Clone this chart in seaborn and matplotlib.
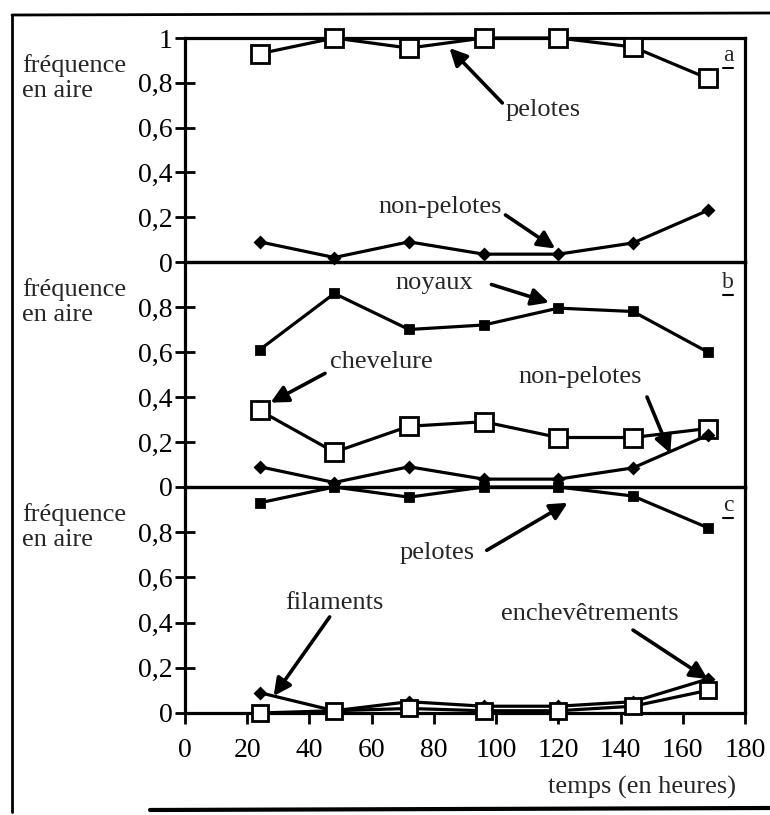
import numpy as np
import matplotlib
matplotlib.use("Agg")
import matplotlib.pyplot as plt
import seaborn as sns
from matplotlib.lines import Line2D

# temps (heures)
hours = [24, 48, 72, 96, 120, 144, 168]

# panel a / c : pelotes, non-pelotes
pelotes = [0.93, 1.0, 0.955, 1.0, 1.0, 0.96, 0.82]
non_pelotes = [0.09, 0.02, 0.09, 0.035, 0.035, 0.085, 0.23]

# panel b : noyaux, chevelure
noyaux = [0.61, 0.86, 0.70, 0.72, 0.795, 0.78, 0.60]
chevelure = [0.34, 0.155, 0.27, 0.29, 0.22, 0.22, 0.26]

# panel c : filaments, enchevetrements
filaments = [0.09, 0.01, 0.05, 0.03, 0.03, 0.05, 0.15]
enchevetrements = [0.0, 0.01, 0.02, 0.01, 0.01, 0.03, 0.10]

ytick_vals = [0, 0.2, 0.4, 0.6, 0.8]
ytick_labels = ["0", "0,2", "0,4", "0,6", "0,8"]
xtick_vals = [0, 20, 40, 60, 80, 100, 120, 140, 160, 180]

sns.set_style("ticks")
plt.rcParams["font.family"] = ["Liberation Serif", "DejaVu Serif"]
FS = 19

fig = plt.figure(figsize=(7.7, 8.15), dpi=100)
W, H = 770, 815
left, right = 185, 745
bounds = [(38, 262), (262, 487), (487, 713)]
axes = []
for top, bot in bounds:
    ax = fig.add_axes([left / W, (H - bot) / H, (right - left) / W, (bot - top) / H])
    axes.append(ax)
ax_a, ax_b, ax_c = axes


def line(ax, y, marker, ms, mfc):
    sns.lineplot(x=hours, y=y, ax=ax, color="black", lw=2.3, marker=marker,
                 markersize=ms, markerfacecolor=mfc, markeredgecolor="black",
                 markeredgewidth=2.0, zorder=3, clip_on=False)


line(ax_a, pelotes, "s", 13, "white")
line(ax_a, non_pelotes, "D", 5, "black")

line(ax_b, noyaux, "s", 6, "black")
line(ax_b, chevelure, "s", 13, "white")
line(ax_b, non_pelotes, "D", 5, "black")

line(ax_c, pelotes, "s", 6, "black")
line(ax_c, filaments, "D", 5, "black")
line(ax_c, enchevetrements, "s", 11, "white")

for i, ax in enumerate(axes):
    ax.set_xlim(0, 180)
    ax.set_ylim(0, 1)
    for s in ax.spines.values():
        s.set_linewidth(2.3)
        s.set_color("black")
        s.set_visible(True)
    if i == 0:
        ax.set_yticks(ytick_vals + [1])
        ax.set_yticklabels(ytick_labels + ["1"])
    else:
        ax.set_yticks(ytick_vals)
        ax.set_yticklabels(ytick_labels)
    ax.tick_params(axis="y", direction="inout", length=14, width=2.0,
                   labelsize=FS + 1, pad=2, colors="black")
    ax.set_xticks(xtick_vals)
    if i < 2:
        ax.tick_params(axis="x", bottom=False, labelbottom=False)
    else:
        ax.tick_params(axis="x", direction="out", length=8, width=2.0,
                       labelsize=FS + 1, pad=10, colors="black")
    ax.set_xlabel("")
    ax.set_ylabel("")
    ax.patch.set_alpha(0)
    fig.text(22 / W, 1 - (bounds[i][0] + 16) / H, "fréquence\nen aire",
             fontsize=FS, ha="left", va="top", linespacing=1.15)

# panel letters (underlined)
for ax, letter, yy in [(ax_a, "a", 0.92), (ax_b, "b", 0.91), (ax_c, "c", 0.92)]:
    ax.text(0.97, yy, letter, transform=ax.transAxes,
            fontsize=17, ha="center", va="center")
    ax.add_line(Line2D([0.961, 0.979], [yy - 0.055, yy - 0.055], transform=ax.transAxes,
                       color="black", lw=1.5))

arrow = dict(arrowstyle="-|>", lw=2.6, color="black", mutation_scale=26,
             shrinkA=0, shrinkB=0)


def note(ax, text, txy, start, end):
    ax.text(txy[0], txy[1], text, fontsize=FS, ha="center", va="center")
    ax.annotate("", xy=end, xytext=start, arrowprops=arrow)


note(ax_a, "pelotes", (115, 0.68), (102, 0.71), (85, 0.955))
note(ax_a, "non-pelotes", (82, 0.245), (103, 0.21), (119, 0.06))

note(ax_b, "noyaux", (80, 0.905), (98.5, 0.9), (117, 0.82))
note(ax_b, "chevelure", (63, 0.555), (45, 0.505), (27.5, 0.375))
note(ax_b, "non-pelotes", (127, 0.49), (148.5, 0.40), (156, 0.15))

note(ax_c, "pelotes", (81, 0.71), (97, 0.72), (123, 0.93))
note(ax_c, "filaments", (48, 0.487), (46.5, 0.425), (28.5, 0.075))
note(ax_c, "enchevêtrements", (130, 0.44), (144, 0.367), (168, 0.15))

fig.text(642 / W, 1 - 787 / H, "temps (en heures)", fontsize=FS,
         ha="center", va="center")

# outer frame of the scanned figure
fig.add_artist(Line2D([12 / W, 12 / W], [1 - 15 / H, 1 - 812 / H], color="black", lw=2))
fig.add_artist(Line2D([12 / W, 1.0], [1 - 15 / H, 1 - 13 / H], color="black", lw=2))
fig.add_artist(Line2D([150 / W, 1.0], [1 - 810 / H, 1 - 808 / H], color="black", lw=3))

fig.savefig("out.png", dpi=100, facecolor="white")
